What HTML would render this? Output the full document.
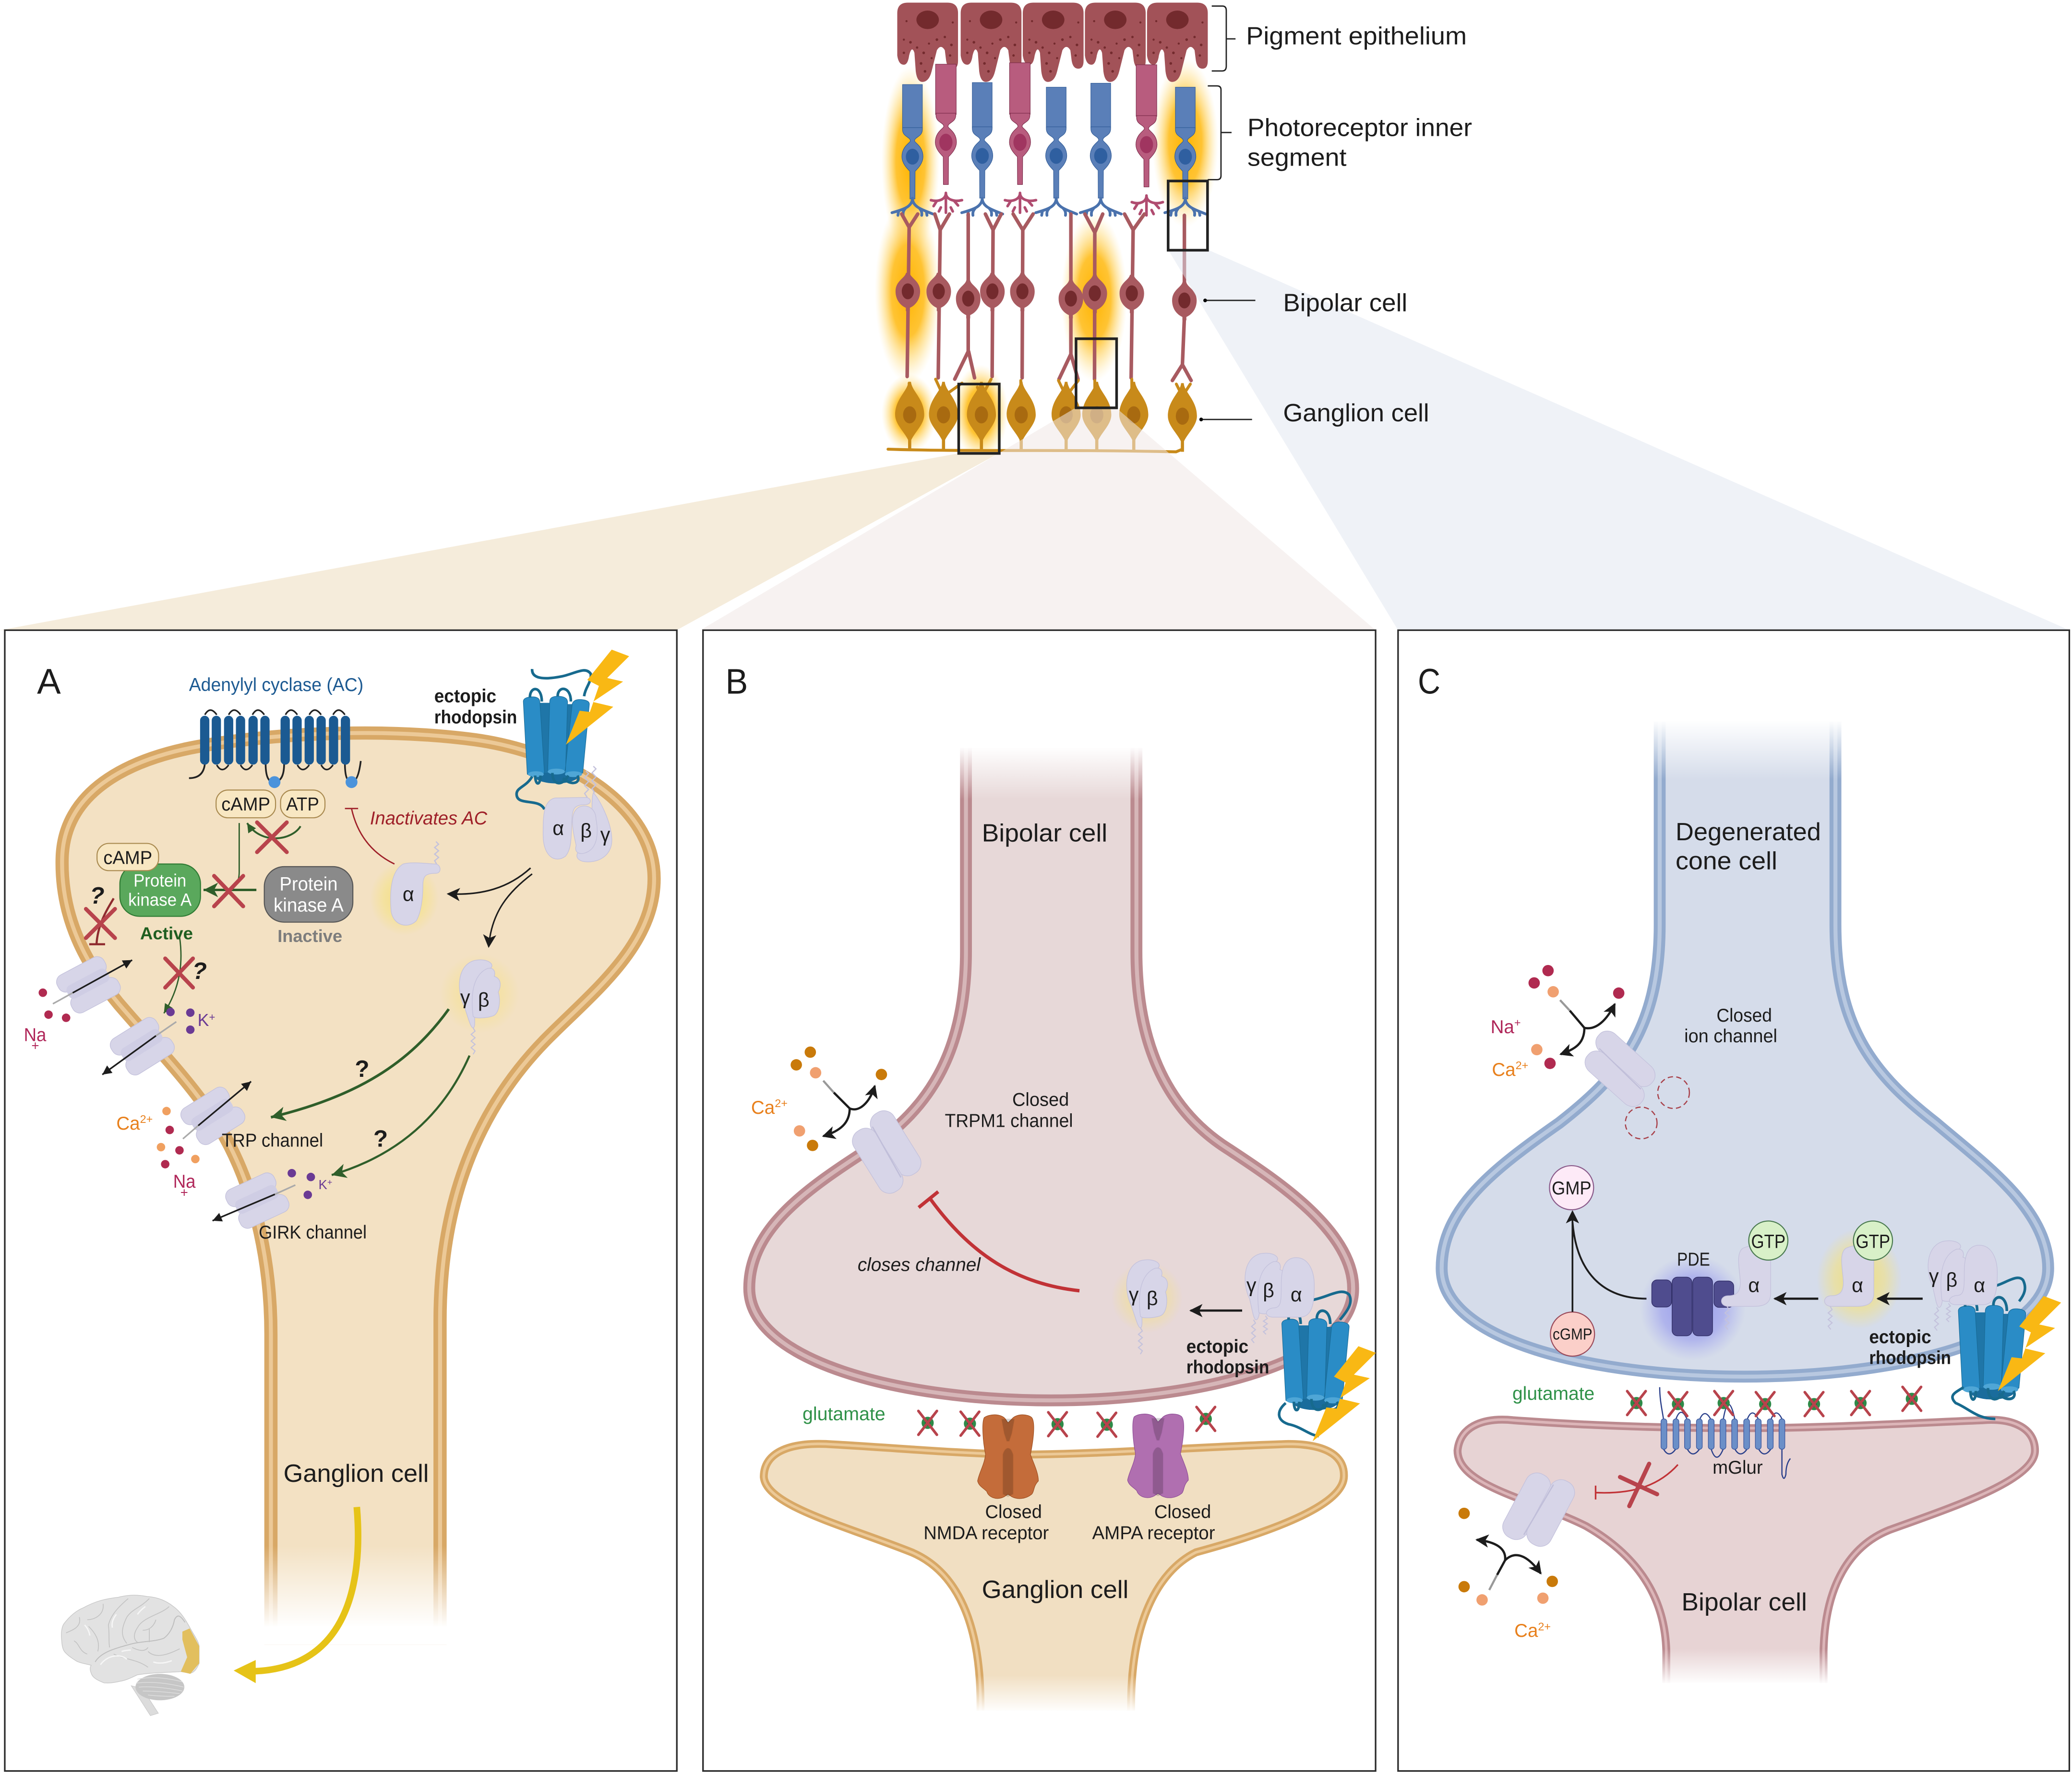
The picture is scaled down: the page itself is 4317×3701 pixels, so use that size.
<!DOCTYPE html>
<html><head><meta charset="utf-8"><style>
html,body{margin:0;padding:0;background:#fff}
svg{display:block}
text{font-family:"Liberation Sans",sans-serif;fill:#1c1c1c}
.b{fill:#5a7fb8;stroke:#2f5a96;stroke-width:.4}
.p{fill:#b85c7e;stroke:#7a2a48;stroke-width:.4}
.nb{fill:#2f5fa0;stroke:none}
.np{fill:#a03560;stroke:none}
.fb{fill:none;stroke:#4a72ad;stroke-width:2.1;stroke-linecap:round}
.fp{fill:none;stroke:#b04c70;stroke-width:2;stroke-linecap:round}
.br{fill:none;stroke:#a85a60;stroke-width:2.7;stroke-linecap:round;stroke-linejoin:round}
.go{fill:none;stroke:#c88a1a;stroke-width:2.2;stroke-linecap:round}
.lav{fill:#d7d5e8;stroke:#c4c2dc;stroke-width:.5}
.lab{font-size:14px}
.big{font-size:19px}
.ul{fill:none;stroke:#222;stroke-width:1}
.grn{fill:none;stroke:#2f5e2a}
.blk{fill:none;stroke:#1c1c1c}
.rd{fill:none;stroke:#b8434c;stroke-linecap:round}
.tail{fill:none;stroke:#176a8e;stroke-width:2}
</style></head><body>
<svg xmlns="http://www.w3.org/2000/svg" width="4317" height="3701" viewBox="0 0 1568 1344.3">
<defs>
<radialGradient id="og"><stop offset="0" stop-color="#ffb400"/><stop offset=".5" stop-color="#ffb90f" stop-opacity=".85"/><stop offset=".8" stop-color="#ffd25a" stop-opacity=".35"/><stop offset="1" stop-color="#ffe39a" stop-opacity="0"/></radialGradient>
<radialGradient id="yg"><stop offset="0" stop-color="#f5dd5c"/><stop offset=".6" stop-color="#f5e27a" stop-opacity=".7"/><stop offset="1" stop-color="#f5e27a" stop-opacity="0"/></radialGradient>
<radialGradient id="bg"><stop offset="0" stop-color="#4f4ff0"/><stop offset=".6" stop-color="#6a6af0" stop-opacity=".7"/><stop offset="1" stop-color="#8a8af5" stop-opacity="0"/></radialGradient>
<linearGradient id="fadeD" x1="0" y1="0" x2="0" y2="1"><stop offset="0" stop-color="#fff" stop-opacity="0"/><stop offset="1" stop-color="#fff"/></linearGradient>
<linearGradient id="fadeU" x1="0" y1="1" x2="0" y2="0"><stop offset="0" stop-color="#fff" stop-opacity="0"/><stop offset="1" stop-color="#fff"/></linearGradient>
<marker id="mk" markerUnits="userSpaceOnUse" markerWidth="12" markerHeight="12" refX="9" refY="5" orient="auto"><path d="M0,0 L10,5 L0,10 L2.5,5Z" fill="#1c1c1c"/></marker>
<marker id="mks" markerUnits="userSpaceOnUse" markerWidth="10" markerHeight="10" refX="7" refY="3.5" orient="auto"><path d="M0,0 L7,3.5 L0,7Z" fill="#1c1c1c"/></marker>
<marker id="mg" markerUnits="userSpaceOnUse" markerWidth="14" markerHeight="14" refX="11" refY="5.5" orient="auto"><path d="M0,0 L11,5.5 L0,11 L3,5.5Z" fill="#2f5e2a"/></marker>
<marker id="mgs" markerUnits="userSpaceOnUse" markerWidth="10" markerHeight="10" refX="7" refY="3.5" orient="auto"><path d="M0,0 L7,3.5 L0,7Z" fill="#2f5e2a"/></marker>
<path id="cellA" d="M205,1240 V1010 C205,960 195,905 170,860 C150,825 120,795 90,760 C65,730 46,695 47,650 C48,600 95,575 150,565 C220,553 300,552 360,560 C430,570 495,610 495,665 C495,715 450,750 415,785 C375,825 333,890 333,1000 V1240 Z"/>
<path id="cellB" d="M731,540 V720 C731,800 700,840 660,868 C610,900 567,930 567,975 C567,1030 680,1060 795,1060 C910,1060 1025,1030 1024,975 C1024,930 960,890 930,870 C890,845 860,800 860,720 V540Z"/>
<path id="cellBg" d="M578,1118 C578,1098 600,1092 625,1093 C680,1096 720,1100 770,1101 C830,1101 910,1095 975,1093 C1000,1093 1018,1100 1017,1118 C1016,1140 960,1160 905,1175 C875,1190 856,1230 856,1290 V1310 H742 V1290 C742,1230 725,1190 690,1175 C640,1155 580,1140 578,1118Z"/>
<path id="cellC" d="M1256,530 V700 C1256,780 1225,815 1180,850 C1130,885 1091,915 1091,960 C1091,1015 1205,1042 1320,1042 C1435,1042 1550,1015 1550,960 C1550,915 1500,880 1465,850 C1420,815 1389,780 1389,700 V530Z"/>
<path id="cellCb" d="M1103,1098 C1105,1078 1125,1073 1145,1075 C1200,1079 1260,1081 1320,1081 C1380,1081 1450,1077 1500,1075 C1525,1073 1540,1082 1540,1098 C1540,1120 1480,1140 1430,1158 C1400,1170 1381,1200 1380,1250 V1290 H1261 V1250 C1260,1205 1235,1175 1200,1155 C1160,1135 1103,1125 1103,1098Z"/>
<g id="rpe">
<path d="M8,0 H38 Q46,0 46,8 V44 Q46,50 42,50 Q38,50 37,44 L36,36 Q33,31 30,36 L26,52 Q24,60 19,60 Q15,60 14,52 L13,38 Q11,32 9,40 Q8,47 5,47 Q1,47 0,40 V8 Q0,0 8,0Z" fill="#a25258"/>
<ellipse cx="23" cy="13" rx="8.5" ry="7" fill="#732a2d"/>
<g fill="#732a2d"><circle cx="5" cy="28" r=".8"/><circle cx="10" cy="30" r="1"/><circle cx="15" cy="34" r=".9"/><circle cx="20" cy="38" r="1"/><circle cx="24" cy="31" r=".8"/><circle cx="30" cy="28" r="1"/><circle cx="36" cy="26" r=".9"/><circle cx="41" cy="32" r="1"/><circle cx="40" cy="40" r=".9"/><circle cx="18" cy="46" r="1"/><circle cx="21" cy="52" r="1"/><circle cx="5" cy="38" r=".9"/><circle cx="42" cy="15" r=".8"/><circle cx="7" cy="14" r=".8"/><circle cx="26" cy="42" r=".8"/></g>
</g>
<path id="pr" d="M-7.5,-22 V-20.5 C-7.5,-15 -1.6,-15 -1.6,-12 C-1.6,-10.5 -8,-8 -8,0 C-8,5 -4,9 -2,11 L-1.9,32 L1.9,32 L2,11 C4,9 8,5 8,0 C8,-8 1.6,-10.5 1.6,-12 C1.6,-15 7.5,-15 7.5,-20.5 V-22Z"/>
<g id="soma"><path d="M-1.4,-14 L1.4,-14 C2,-10 9.3,-8 9.3,0 C9.3,7 5,11 1.5,12.5 L1.5,15 L-1.5,15 L-1.5,12.5 C-5,11 -9.3,7 -9.3,0 C-9.3,-8 -2,-10 -1.4,-14Z" fill="#a85a60"/><ellipse cx="0" cy="0" rx="4.6" ry="6" fill="#732a2d"/></g>
<g id="gang"><path d="M-1,-24 L1,-24 C1.5,-17 11,-11 11,1 C11,8 4,14 1.2,20 L1.2,28 L-1.2,28 L-1.2,20 C-4,14 -11,8 -11,1 C-11,-11 -1.5,-17 -1,-24Z" fill="#c88a1a"/><ellipse cx="0" cy="1" rx="5" ry="6.5" fill="#a86a10"/></g>
<g id="chO"><rect x="-10" y="-13" width="20" height="26" fill="#c6c4df"/><rect x="-21" y="-16" width="40" height="14" rx="6" class="lav"/><rect x="-19" y="3" width="40" height="14" rx="6" class="lav"/><rect x="-17" y="-6" width="34" height="11" rx="4" fill="#cfcde4"/></g>
<g id="chC"><rect x="-29" y="-19" width="54" height="19.5" rx="9" class="lav"/><rect x="-25" y="-.5" width="54" height="19.5" rx="9" class="lav"/><path d="M-22,-1 L22,1" stroke="#c0bed9" stroke-width="1"/></g>
<path id="bolt" fill="#f9b814" d="M0,0 L13.2,5 L-3.4,21.5 L8.6,24.2 L-14.3,39.6 L1.2,43.3 L-34.7,72 L-24.3,46.3 L-16.5,47.2 L-9.7,27.5 L-18.5,23Z"/>
<g id="rh">
<ellipse cx="25" cy="60" rx="17" ry="6" fill="#1a6c9c"/>
<path d="M8,5 L24,5 L24,58 L10,58Z M28,6 L42,6 L42,58 L28,58Z" fill="#1f76a8"/>
<path d="M0,4 Q0,1 5.5,.5 Q12,0 12.5,4 L16,58 Q9,63 3,59Z M20,4 Q20,0 26,0 Q33,0 33.5,4 L32,56 Q25,60 18.5,56Z M37,6 Q38,2 44,2.5 Q50,3 50,6 L45,58 Q38,62 31.5,58Z" fill="#2a8cc6" stroke="#176a96" stroke-width=".4"/>
<g fill="#4fa6d6"><ellipse cx="9.5" cy="59" rx="6" ry="2.2"/><ellipse cx="25" cy="57" rx="6.5" ry="2.2"/><ellipse cx="38" cy="59" rx="6.5" ry="2.2"/></g>
<g class="tail"><path d="M5,1 C5,-8 14,-8 14,4"/><path d="M26,0 C26,-8 36,-8 36,4"/><path d="M9,60 C9,68 13,68 13,60"/><path d="M22,58 C22,68 30,68 34,60"/><path d="M41,60 C44,66 36,68 30,62"/></g>
</g>
<g id="tri">
<path class="lav" d="M12,0 C22,-2 28,3 24,6 C14,8 12,20 12,34 C12,44 11,50 9,50 C7,50 6,42 4,34 C-1,24 -2,4 12,0Z"/>
<path class="lav" d="M22,6 C27,5 28,9 27,12 C33,14 32,20 30,24 C32,30 31,42 26,44 C20,46 11,46 11,44 C10,34 8,12 22,6Z"/>
<path class="lav" d="M38,3 C48,2 53,12 53,24 C53,36 52,48 42,48 L22,48 C15,48 15,42 22,41 C28,41 28,36 28,24 C28,12 30,4 38,3Z"/>
<path d="M7,50 l1.5,2.5 l-3,2.5 l3,2.5 l-3,2.5 l3,2.5 l-3,2.5 l2,2.5 M16,47 l1.5,2 l-3,2 l3,2 l-3,2 l3,2 l-3,2 l2,2" fill="none" stroke="#c4c2dc" stroke-width=".8"/>
</g>
<g id="by">
<path class="lav" d="M12,0 C22,-2 28,3 24,6 C14,8 12,20 12,34 C12,44 13,51 11,51 C9,51 7,42 4,34 C-1,24 -2,4 12,0Z"/>
<path class="lav" d="M22,6 C27,5 28,9 27,12 C33,14 32,20 30,24 C32,30 31,40 26,42 C20,44 11,44 11,42 C10,34 8,12 22,6Z"/>
<path d="M11,51 l1.5,2.5 l-3,2.5 l3,2.5 l-3,2.5 l3,2.5 l-3,2.5 l3,2.5 l-1.5,2.5" fill="none" stroke="#c4c2dc" stroke-width=".8"/>
</g>
<g id="aC">
<path class="lav" d="M16,2 C26,-2 37,-2 37,8 L37,36 C37,44 32,46 24,46 L5,46 C-2,46 -2,38 5,38 C12,38 14,34 14,28 C14,20 10,6 16,2Z"/>
<path d="M4,46 l1.5,2.5 l-3,2.5 l3,2.5 l-3,2.5 l3,2.5 l-3,2.5 l2,2.5" fill="none" stroke="#c4c2dc" stroke-width=".8"/>
</g>
<g id="x"><path d="M-7,-9 L7,9 M7,-9 L-7,9" fill="none" stroke="#b8434c" stroke-width="2" stroke-linecap="round"/></g>
<g id="glu"><circle r="4.6" fill="#2e8a48"/><circle r="2.2" fill="#1f6e38"/><use href="#x"/></g>
<g id="iglu">
<path d="M5,2 C9,-1 18,-1 21,3 L23,6 L26,3 C29,-1 38,-1 41,2 C44,6 42,20 40,30 C43,38 46,44 46,50 C42,54 43,58 41,60 C36,64 30,64 26,62 L23,60 L20,62 C14,65 8,62 7,58 C4,55 1,54 0,50 C1,44 5,38 6,30 C4,20 3,6 5,2Z"/>
<path d="M18,3 H28 L26,14 L24,20 L22,20 L20,14Z M19,30 C20,26 22,25 23,25 C25,25 26,27 27,30 V60 L23,62 L19,60Z" fill="#000" opacity=".18"/>
</g>
</defs>

<rect width="1568" height="1344.3" fill="#fff"/>

<!-- glow -->
<ellipse cx="689" cy="122" rx="22" ry="72" fill="url(#og)"/>
<ellipse cx="897" cy="108" rx="25" ry="64" fill="url(#og)"/>
<ellipse cx="687" cy="220" rx="25" ry="70" fill="url(#og)"/>
<ellipse cx="828" cy="225" rx="25" ry="64" fill="url(#og)"/>
<ellipse cx="688" cy="313" rx="21" ry="30" fill="url(#og)"/>
<ellipse cx="742" cy="312" rx="21" ry="36" fill="url(#og)"/>

<!-- RPE -->
<use href="#rpe" transform="translate(679,2)"/><use href="#rpe" transform="translate(727,2)"/><use href="#rpe" transform="translate(774,2)"/><use href="#rpe" transform="translate(821,2)"/><use href="#rpe" transform="translate(868,2)"/>

<!-- photoreceptors -->
<g class="b"><rect x="683" y="64" width="15" height="33"/><use href="#pr" transform="translate(690.5,118.6)"/><ellipse class="nb" cx="690.5" cy="118.6" rx="5" ry="6"/></g>
<g class="b"><rect x="735.8" y="62.5" width="15" height="34"/><use href="#pr" transform="translate(743.3,118)"/><ellipse class="nb" cx="743.3" cy="118" rx="5" ry="6"/></g>
<g class="b"><rect x="791.8" y="66" width="15" height="30.5"/><use href="#pr" transform="translate(799.3,118)"/><ellipse class="nb" cx="799.3" cy="118" rx="5" ry="6"/></g>
<g class="b"><rect x="825.5" y="63" width="15" height="33.5"/><use href="#pr" transform="translate(833,118)"/><ellipse class="nb" cx="833" cy="118" rx="5" ry="6"/></g>
<g class="b"><rect x="889.5" y="66" width="15" height="31"/><use href="#pr" transform="translate(897,118.6)"/><ellipse class="nb" cx="897" cy="118.6" rx="5" ry="6"/></g>
<g class="p"><rect x="708" y="48.6" width="15.6" height="38"/><use href="#pr" transform="translate(715.8,107.7)"/><ellipse class="np" cx="715.8" cy="107.7" rx="5" ry="6.5"/></g>
<g class="p"><rect x="764" y="47.5" width="15.6" height="39"/><use href="#pr" transform="translate(771.9,107.7)"/><ellipse class="np" cx="771.9" cy="107.7" rx="5" ry="6.5"/></g>
<g class="p"><rect x="859.8" y="49" width="15.6" height="39"/><use href="#pr" transform="translate(867.6,109.5)"/><ellipse class="np" cx="867.6" cy="109.5" rx="5" ry="6.5"/></g>
<g class="fb">
<path id="fb" d="M690.5,150 C690.5,157 682,159 675,161 M690.5,150 C690.5,157 699,159 706,162 M680,160 l-.5,3 M685,158 q-2,2 -1.5,5 M696,158 q2,2 1.5,5 M701,160 l.5,3"/>
<use href="#fb" transform="translate(52.8,0)"/><use href="#fb" transform="translate(108.8,0)"/><use href="#fb" transform="translate(142.5,0)"/><use href="#fb" transform="translate(206.5,0)"/>
</g>
<g class="fp">
<path d="M715.8,146 C715.8,151 710,153 704.5,151.5 M715.8,146 C715.8,151 722,153 728,151.5 M709,152 l-2.5,4 M722,152 l3,3.5 M715.8,148 v13 M712,157 l-1.5,3 M719.5,157 l1.5,3"/>
<path d="M771.9,146 C771.9,151 766,153 760.5,151.5 M771.9,146 C771.9,151 778,153 784,151.5 M765,152 l-2.5,4 M778,152 l3,3.5 M771.9,148 v13 M768,157 l-1.5,3 M775.5,157 l1.5,3"/>
<path d="M867.6,148 C867.6,153 862,155 856.5,153 M867.6,148 C867.6,153 874,155 880,153 M861,154 l-2.5,4 M874,154 l3,3.5 M867.6,150 v13 M864,159 l-1.5,3 M871.5,159 l1.5,3"/>
</g>

<!-- bipolar processes -->
<g class="br">
<path d="M682.4,162 L688,172 L694.5,162 M688,172 L686.5,285"/>
<path d="M707.4,162 L711.5,174 L718.5,162 M711.5,174 L710,286"/>
<path d="M732.7,162 V266 L722.5,287 M733,266 L737.5,286"/>
<path d="M745.7,162 L751.5,174 L757.7,162 M751.5,174 L750.8,285"/>
<path d="M766.7,162 L774,174 L781.8,162 M774,174 L773.5,286"/>
<path d="M810.4,162 V268 L801.4,287 M810.4,268 L815.8,287"/>
<path d="M821,162 L828.5,176 L834.5,162 M828.5,176 L828.3,287"/>
<path d="M851,162 L857.5,174 L866,162 M857.5,174 L856,286"/>
<path d="M896.3,163 V240 L894.8,276 L887.2,288 M894.8,276 L901.4,288"/>
</g>
<use href="#soma" transform="translate(687,220.5)"/><use href="#soma" transform="translate(710.4,220.5)"/><use href="#soma" transform="translate(732.7,226)"/><use href="#soma" transform="translate(751,220.5)"/><use href="#soma" transform="translate(773.7,220.5)"/><use href="#soma" transform="translate(810.4,226)"/><use href="#soma" transform="translate(828.5,222)"/><use href="#soma" transform="translate(856.5,222)"/><use href="#soma" transform="translate(896.3,227.4)"/>

<!-- ganglion -->
<g class="go">
<path d="M672,340 C730,342 800,340 890,342 L894.8,340 V320"/>
<path d="M688,290 V300 M708,287 L714,300 L728,290 M739.6,293 L743,300 L750,287 M772.5,288 V300 M801,288 L806.8,300 L816,288 M828.5,288 V300 M856.5,287 V300 M890.2,290.7 L894.8,300 L900.8,290.7"/>
</g>
<use href="#gang" transform="translate(688.4,313)"/><use href="#gang" transform="translate(714,313)"/><use href="#gang" transform="translate(742.7,313)"/><use href="#gang" transform="translate(772.8,313)"/><use href="#gang" transform="translate(806.8,313)"/><use href="#gang" transform="translate(830,313)"/><use href="#gang" transform="translate(858,313)"/><use href="#gang" transform="translate(894.8,314)"/>

<!-- wedges -->
<polygon points="726,343 756,343 512,477 0,477" fill="#f5ecdb"/>
<polygon points="813.4,309 845,309 1041,477 530,477" fill="#f1e8e6" opacity=".55"/>
<polygon points="884,189 914,189 1566,477 1058,477" fill="#dfe5ef" opacity=".5"/>
<rect x="884" y="137" width="29.8" height="52.4" fill="none" stroke="#222" stroke-width="2"/>
<rect x="814.3" y="256.4" width="30.7" height="52.3" fill="none" stroke="#222" stroke-width="2"/>
<rect x="725.5" y="290.7" width="30.7" height="52.5" fill="none" stroke="#222" stroke-width="2"/>

<!-- top labels -->
<path class="ul" d="M917,4.6 H925 Q928,4.6 928,8 V50 Q928,53.7 925,53.7 H917 M928,29.4 H935"/>
<path class="ul" d="M914,65 H921 Q924,65 924,68 V133 Q924,136 921,136 H914 M924,100.3 H932"/>
<path class="ul" d="M912,227.4 H950 M909,317.5 H947.5"/><circle cx="912" cy="227.4" r="1.4"/><circle cx="909" cy="317.5" r="1.4"/>
<text class="big" x="943" y="33.6" textLength="167" lengthAdjust="spacingAndGlyphs">Pigment epithelium</text>
<text class="big" x="944" y="103" textLength="170" lengthAdjust="spacingAndGlyphs">Photoreceptor inner</text>
<text class="big" x="944" y="125.5" textLength="75" lengthAdjust="spacingAndGlyphs">segment</text>
<text class="big" x="971" y="235.5" textLength="94" lengthAdjust="spacingAndGlyphs">Bipolar cell</text>
<text class="big" x="971" y="319" textLength="110.5" lengthAdjust="spacingAndGlyphs">Ganglion cell</text>

<!-- panels -->
<rect x="3.6" y="477" width="508.6" height="863.5" fill="#fff" stroke="#2a2a2a" stroke-width="1.2"/>
<rect x="532" y="477" width="509" height="863.5" fill="#fff" stroke="#2a2a2a" stroke-width="1.2"/>
<rect x="1058" y="477" width="508" height="863.5" fill="#fff" stroke="#2a2a2a" stroke-width="1.2"/>

<!-- ================= Panel A ================= -->
<use href="#cellA" fill="#f3e1c3" stroke="#d8a866" stroke-width="10"/>
<use href="#cellA" fill="none" stroke="#ecc997" stroke-width="3"/>
<rect x="190" y="1170" width="160" height="62" fill="url(#fadeD)"/><rect x="190" y="1231" width="160" height="14" fill="#fff"/>
<text x="28" y="525" font-size="27" textLength="18" lengthAdjust="spacingAndGlyphs">A</text>
<text x="143" y="523" font-size="14" style="fill:#1d5a92" textLength="132" lengthAdjust="spacingAndGlyphs">Adenylyl cyclase (AC)</text>
<!-- AC -->
<g fill="none" stroke="#222" stroke-width="1.2">
<path d="M155,541 q4,-7 9,0 M173,541 q4,-7 9,0 M191,541 q4,-7 9,0 M216,541 q4,-7 9,0 M234,541 q4,-7 9,0 M252,541 q4,-7 9,0"/>
<path d="M164,579 q4,7 9,0 M182,579 q4,7 9,0 M225,579 q4,7 9,0 M243,579 q4,7 9,0"/>
<path d="M155,578 q-1,11 -12,11 M201,578 q0,14 6,14 q8,0 8,-14 M261,578 q0,14 5,14 q5,0 7,-16" stroke-width="1.3"/>
</g>
<g fill="#1b5a92"><rect x="151.4" y="541.8" width="7" height="37" rx="3.5"/><rect x="160.2" y="541.8" width="7" height="37" rx="3.5"/><rect x="169.5" y="541.8" width="7" height="37" rx="3.5"/><rect x="178.5" y="541.8" width="7" height="37" rx="3.5"/><rect x="188" y="541.8" width="7" height="37" rx="3.5"/><rect x="197" y="541.8" width="7" height="37" rx="3.5"/><rect x="212.3" y="541.8" width="7" height="37" rx="3.5"/><rect x="221.3" y="541.8" width="7" height="37" rx="3.5"/><rect x="230.5" y="541.8" width="7" height="37" rx="3.5"/><rect x="239.5" y="541.8" width="7" height="37" rx="3.5"/><rect x="248.9" y="541.8" width="7" height="37" rx="3.5"/><rect x="257.9" y="541.8" width="7" height="37" rx="3.5"/></g>
<circle cx="207.7" cy="592" r="4.5" fill="#4b93db"/><circle cx="266" cy="592" r="4.5" fill="#4b93db"/>
<!-- pills -->
<rect x="163.5" y="598" width="45" height="21" rx="9" fill="#f8e7c2" stroke="#a98a50" stroke-width=".8"/>
<rect x="212.3" y="598" width="33.6" height="21" rx="9" fill="#f8e7c2" stroke="#a98a50" stroke-width=".8"/>
<text x="186" y="613.5" font-size="14" text-anchor="middle" textLength="37" lengthAdjust="spacingAndGlyphs">cAMP</text>
<text x="229" y="613.5" font-size="14" text-anchor="middle" textLength="25" lengthAdjust="spacingAndGlyphs">ATP</text>
<path class="grn" stroke-width="1.4" d="M227.4,625.4 C221,636 198,640 187,623" marker-end="url(#mgs)"/>
<path class="grn" stroke-width="1" d="M181,623 V660 C181,668 178,672 173,675"/>
<path class="grn" stroke-width="1.8" d="M194,673.6 H154" marker-end="url(#mg)"/>
<path class="rd" stroke-width="3" d="M194.5,622.5 L217,645 M217,622.5 L194.5,645"/>
<path class="rd" stroke-width="3" d="M162,663 L184,686 M184,663 L162,686"/>
<!-- PKA -->
<rect x="200" y="656" width="67" height="42" rx="15" fill="#8a8a8a" stroke="#555" stroke-width=".8"/>
<text x="233.5" y="674" font-size="14.5" text-anchor="middle" style="fill:#fff" textLength="44" lengthAdjust="spacingAndGlyphs">Protein</text>
<text x="233.5" y="690" font-size="14.5" text-anchor="middle" style="fill:#fff" textLength="53" lengthAdjust="spacingAndGlyphs">kinase A</text>
<text x="234.5" y="713" font-size="13" font-weight="700" text-anchor="middle" style="fill:#7d7d7d" textLength="49" lengthAdjust="spacingAndGlyphs">Inactive</text>
<rect x="90.7" y="654" width="61" height="39.6" rx="15" fill="#5aa85c" stroke="#2f7a33" stroke-width=".8"/>
<rect x="73.4" y="638.4" width="46.6" height="20.6" rx="9" fill="#f8e7c2" stroke="#a98a50" stroke-width=".8"/>
<text x="96.7" y="654" font-size="14" text-anchor="middle" textLength="37" lengthAdjust="spacingAndGlyphs">cAMP</text>
<text x="121" y="671" font-size="13.5" text-anchor="middle" style="fill:#fff" textLength="40" lengthAdjust="spacingAndGlyphs">Protein</text>
<text x="121" y="685.5" font-size="13.5" text-anchor="middle" style="fill:#fff" textLength="48" lengthAdjust="spacingAndGlyphs">kinase A</text>
<text x="126" y="711" font-size="13" font-weight="700" text-anchor="middle" style="fill:#1f5e20" textLength="40" lengthAdjust="spacingAndGlyphs">Active</text>
<!-- inhibit / ? -->
<path d="M86,680 C80,690 74,700 73,714.7 M67.5,714.7 H79.5" fill="none" stroke="#8e2a2e" stroke-width="1.6"/>
<path class="rd" stroke-width="3" d="M65,688 L87,710 M87,688 L65,710"/>
<text x="73.5" y="684" font-size="18" font-weight="700" font-style="italic" text-anchor="middle">?</text>
<path class="grn" stroke-width="1" d="M136,710 C138,725 138,745 124,767" marker-end="url(#mgs)"/>
<path class="rd" stroke-width="3" d="M125,725.5 L146,747.5 M146,725.5 L125,747.5"/>
<text x="151" y="741" font-size="18" font-weight="700" font-style="italic" text-anchor="middle">?</text>
<!-- channels -->
<use href="#chO" transform="translate(66.7,745) rotate(-28)"/>
<use href="#chO" transform="translate(107.4,791.5) rotate(-32)"/>
<use href="#chO" transform="translate(160.8,844.2) rotate(-32)"/>
<use href="#chO" transform="translate(194.5,908.3) rotate(-25)"/>
<path d="M40,759.8 L55,751.5" stroke="#aaa" stroke-width="1.2"/><path class="blk" stroke-width="1.2" d="M55,751.5 L100,726.7" marker-end="url(#mks)"/>
<path d="M133.4,773.4 L118,784" stroke="#aaa" stroke-width="1.2"/><path class="blk" stroke-width="1.2" d="M118,784 L77.4,813.4" marker-end="url(#mks)"/>
<path d="M138.4,862 L150,852" stroke="#aaa" stroke-width="1.2"/><path class="blk" stroke-width="1.2" d="M150,852 L190,818.6" marker-end="url(#mks)"/>
<path d="M223.5,897 L208,904" stroke="#aaa" stroke-width="1.2"/><path class="blk" stroke-width="1.2" d="M208,904 L160.8,924" marker-end="url(#mks)"/>
<!-- ions A -->
<g fill="#b02a50"><circle cx="32.4" cy="751.4" r="3.2"/><circle cx="36.7" cy="768" r="3.2"/><circle cx="50" cy="770.4" r="3.2"/><circle cx="128.4" cy="855.3" r="3.2"/><circle cx="135.8" cy="870.7" r="3.2"/><circle cx="125" cy="881.2" r="3.2"/></g>
<g fill="#6a3a94"><circle cx="129" cy="766" r="3.2"/><circle cx="144" cy="766.5" r="3.2"/><circle cx="144" cy="779.4" r="3.2"/><circle cx="220.8" cy="888" r="3.2"/><circle cx="235.2" cy="890.9" r="3.2"/><circle cx="232.9" cy="904.4" r="3.2"/></g>
<g fill="#f0a060"><circle cx="126" cy="841" r="3.2"/><circle cx="121.8" cy="868.3" r="3.2"/><circle cx="147.8" cy="877.3" r="3.2"/></g>
<text x="18" y="788" font-size="14" style="fill:#b0275a" textLength="17" lengthAdjust="spacingAndGlyphs">Na</text><text x="26.7" y="795" font-size="10" text-anchor="middle" style="fill:#b0275a">+</text>
<text x="149.5" y="776.5" font-size="13" style="fill:#6a3a94">K<tspan font-size="8" dy="-4">+</tspan></text>
<text x="88" y="855" font-size="14" style="fill:#e8801c">Ca<tspan font-size="8.5" dy="-5">2+</tspan></text>
<text x="131" y="899" font-size="14" style="fill:#b0275a" textLength="17" lengthAdjust="spacingAndGlyphs">Na</text><text x="139.4" y="906" font-size="10" text-anchor="middle" style="fill:#b0275a">+</text>
<text x="241" y="900" font-size="10" style="fill:#6a3a94">K<tspan font-size="6.5" dy="-3">+</tspan></text>
<text class="lab" x="167.8" y="868" textLength="76.7" lengthAdjust="spacingAndGlyphs">TRP channel</text>
<text class="lab" x="195.8" y="937.5" textLength="81.7" lengthAdjust="spacingAndGlyphs">GIRK channel</text>
<!-- rhodopsin A -->
<path class="tail" d="M402.7,506.4 C402,515 415,514 425,512 C435,510 443,504 447,510 C448,516 443,520 442,527"/>
<use href="#rh" transform="translate(396,527)"/>
<path class="tail" d="M402.7,587.8 C398,596 390,596 391,602 C392,610 408,604 412,612.6"/>
<use href="#bolt" transform="translate(462.9,491.7)"/>
<text x="328.6" y="531.5" font-size="14" font-weight="700" textLength="47" lengthAdjust="spacingAndGlyphs">ectopic</text>
<text x="328.6" y="547.5" font-size="14" font-weight="700" textLength="62.7" lengthAdjust="spacingAndGlyphs">rhodopsin</text>
<!-- trimer A -->
<path d="M444.4,603.6 l-2,-3 l3,-3 l-3,-3 l3,-3 l-3,-3 l3,-3 l-2,-2 M450,600 l-2,-3 l3,-3 l-3,-3 l3,-3 l-3,-3 l3,-3 l-2,-2" fill="none" stroke="#c4c2dc" stroke-width=".9"/>
<path class="lav" d="M449,600 C453,604 463,622 463,636 C463,648 452,654 441,652 C434,650 436,644 442,642 L447,630 C449,618 447,606 449,600Z"/>
<path class="lav" d="M438,611 C444,608 451,612 451,620 C453,630 452,640 446,644 C440,648 434,646 436,640 C434,630 430,616 438,611Z"/>
<path class="lav" d="M420,604 L443,603.6 C448,603.6 448,609 443,609 C435,609 433,612 432.8,620 C432,632 433,642 428,648 C420,654 411,648 411,632 C411,618 411,606 420,604Z"/>
<text x="422.5" y="632" font-size="15" text-anchor="middle">α</text>
<text x="443.5" y="634" font-size="15" text-anchor="middle">β</text>
<text x="458" y="637" font-size="15" text-anchor="middle">γ</text>
<!-- alpha free -->
<ellipse cx="306" cy="680" rx="26" ry="28" fill="url(#yg)" opacity=".7"/>
<path d="M330.4,654 l-1.5,-2.5 l3,-2.5 l-3,-2.5 l3,-2.5 l-3,-2.5 l3,-2.5 l-2,-2" fill="none" stroke="#c4c2dc" stroke-width=".9"/>
<path class="lav" d="M305,654 C312,652 325,654 330,654 C334,655 334,661 330,661 C322,661 320,663 320,670 C320,678 319,690 315,697 C309,703 298,701 296,690 C295,678 295,660 305,654Z"/>
<text x="309" y="682" font-size="15" text-anchor="middle">α</text>
<path class="blk" stroke-width="1.2" d="M401.5,657 C385,672 365,678 339,676.6" marker-end="url(#mk)"/>
<path class="blk" stroke-width="1.1" d="M402.7,661.5 C385,675 372,690 369.8,716.5" marker-end="url(#mk)"/>
<path d="M298.5,654 C280,645 270,630 266,612" fill="none" stroke="#9e1f28" stroke-width="1"/><path d="M261,612 H271" stroke="#9e1f28" stroke-width="1"/>
<text x="280" y="624" font-size="14" font-style="italic" style="fill:#9e1f28" textLength="88.7" lengthAdjust="spacingAndGlyphs">Inactivates AC</text>
<!-- by free A -->
<circle cx="363" cy="752" r="30" fill="url(#yg)" opacity=".45"/>
<use href="#by" transform="translate(347,727)"/>
<text x="352" y="760" font-size="15" text-anchor="middle">γ</text>
<text x="366" y="762" font-size="15" text-anchor="middle">β</text>
<path class="grn" stroke-width="2" d="M339.6,763.8 C310,805 270,830 205,845.7" marker-end="url(#mg)"/>
<path class="grn" stroke-width="1.6" d="M355.3,799 C335,845 300,875 251,889.4" marker-end="url(#mg)"/>
<text x="274" y="815" font-size="18" font-weight="700" text-anchor="middle">?</text>
<text x="288" y="868" font-size="18" font-weight="700" text-anchor="middle">?</text>
<text class="big" x="214.5" y="1121.7" textLength="110" lengthAdjust="spacingAndGlyphs">Ganglion cell</text>
<!-- yellow arrow -->
<path d="M270,1140.7 C275,1200 262,1262 193,1265" fill="none" stroke="#e6c317" stroke-width="5"/>
<path d="M176.8,1264.5 L193.5,1256.5 V1274Z" fill="#e6c317"/>
<!-- brain -->
<path d="M99.3,1276 L113.8,1298.6 L119.8,1296.8 L107.7,1278Z" fill="#dcdcdc" stroke="#c8c8c8" stroke-width=".4"/>
<ellipse cx="121" cy="1277" rx="18.5" ry="10" fill="#c6c6c6"/>
<path d="M104,1271 q14,-3 34,2 M103,1274 q16,-2 36,3 M105,1277 q14,-1 33,3 M108,1280 q12,0 28,2 M112,1283 q8,1 20,1" stroke="#e0e0e0" stroke-width=".5" fill="none"/>
<path d="M46.6,1241 C46,1235 47,1231 48.4,1229 C53,1223 58,1219 63,1217 C72,1212 80,1210 89.6,1209 C97,1207 104,1207 111,1208.4 C120,1209 126,1212 130.8,1215.7 C137,1220 141,1227 144,1232.6 C147,1238 150,1242 150.7,1246 V1259 C149,1263 147,1266 144,1266.5 L136.8,1265.3 C125,1266 115,1266 104,1267.7 C99,1270 95,1272 90.8,1272.6 C85,1274 82,1274 78.7,1273.8 C74,1272 70,1270 69,1266.5 C68,1264 68,1262 69,1260.5 C66,1259.5 61,1259 58,1257.4 C54,1255 50,1252 48.4,1249.6 C47,1247 46.8,1244 46.6,1241Z" fill="#e2e2e2" stroke="#c8c8c8" stroke-width=".5"/>
<path d="M72,1258 C76,1251 86,1248 97,1245 C107,1242 116,1243 124,1240 C128,1237 131,1232 132,1226 C134,1222 136,1222 140,1228" fill="none" stroke="#bdbdbd" stroke-width=".7"/>
<path d="M78,1214 C79,1222 72,1226 66,1226 M97,1210 C90,1216 84,1222 82,1230 C83,1238 82,1244 83,1247 M113,1210 C106,1217 100,1218 96,1224 C92,1232 91,1238 96,1244 M128,1216 C122,1222 108,1224 104,1232 C100,1238 102,1242 104,1243 M118,1226 C116,1232 112,1234 108,1234 M113,1233 L113,1243 M60,1224 C62,1232 54,1234 50,1236 M67,1231 C72,1236 76,1242 74,1250 M56,1242 C60,1244 60,1250 66,1252 M86,1252 C94,1256 104,1256 112,1262 M100,1247 C106,1250 110,1250 112,1247 M112,1250 C118,1256 128,1252 136,1248" fill="none" stroke="#c2c2c2" stroke-width=".6"/>
<path d="M76,1260 C82,1252 92,1252 96,1256 M92,1250 q4,-1 7,-1 M116,1258 q6,2 14,-1 M88,1222 q-4,5 -3,10 M110,1216 q-4,3 -6,6 M64,1230 q3,3 4,8" fill="none" stroke="#f6f6f6" stroke-width="1"/>
<path d="M138,1235 L143.5,1232.6 L150.7,1246 V1259 L144,1267 L136.8,1265.3 L141.6,1254.4 L138,1241Z" fill="#e2bf5e"/>

<!-- ================= Panel B ================= -->
<use href="#cellB" fill="#e7d8d8" stroke="#bb8a8f" stroke-width="9"/>
<use href="#cellB" fill="none" stroke="#d6b6b8" stroke-width="3"/>
<rect x="715" y="565" width="160" height="40" fill="url(#fadeU)"/><rect x="715" y="530" width="160" height="36" fill="#fff"/>
<use href="#cellBg" fill="#f1dfc2" stroke="#d8a866" stroke-width="6"/>
<use href="#cellBg" fill="none" stroke="#ecc997" stroke-width="2"/>
<rect x="730" y="1268" width="135" height="28" fill="url(#fadeD)"/><rect x="730" y="1295" width="135" height="20" fill="#fff"/>
<text x="549" y="525" font-size="27" textLength="17" lengthAdjust="spacingAndGlyphs">B</text>
<text class="big" x="743" y="637" textLength="95" lengthAdjust="spacingAndGlyphs">Bipolar cell</text>
<text class="lab" x="787.5" y="837" text-anchor="middle" textLength="43" lengthAdjust="spacingAndGlyphs">Closed</text>
<text class="lab" x="763.5" y="853" text-anchor="middle" textLength="97" lengthAdjust="spacingAndGlyphs">TRPM1 channel</text>
<text class="lab" x="649" y="962" font-style="italic" textLength="93" lengthAdjust="spacingAndGlyphs">closes channel</text>
<use href="#chC" transform="translate(671,872) rotate(58)"/>
<g fill="#c97a0a"><circle cx="613.2" cy="796.4" r="4.3"/><circle cx="602.6" cy="806" r="4.3"/><circle cx="667" cy="813.3" r="4.3"/><circle cx="614.9" cy="867" r="4.3"/></g>
<g fill="#f0a070"><circle cx="617.2" cy="812" r="4.3"/><circle cx="605" cy="856" r="4.3"/></g>
<path d="M623,818 L631,827" stroke="#999" stroke-width="1.6"/>
<path class="blk" stroke-width="1.7" d="M631,827 L643,839 C650,842 658,835 662,822" marker-end="url(#mk)"/>
<path class="blk" stroke-width="1.7" d="M643,839 C643,850 636,856 623,860" marker-end="url(#mk)"/>
<text x="568.4" y="843" font-size="14" style="fill:#e8801c">Ca<tspan font-size="8.5" dy="-5">2+</tspan></text>
<path d="M816.9,977 C770,972 735,950 704.4,908" fill="none" stroke="#c13236" stroke-width="2.6"/>
<path d="M695.2,914 L710,902" stroke="#c13236" stroke-width="2.6"/>
<circle cx="868" cy="982" r="27" fill="url(#yg)" opacity=".5"/>
<use href="#by" transform="translate(852,954)"/>
<text x="858" y="985" font-size="15" text-anchor="middle">γ</text>
<text x="872" y="988" font-size="15" text-anchor="middle">β</text>
<path class="blk" stroke-width="1.7" d="M940,992 H901" marker-end="url(#mk)"/>
<path class="tail" d="M993,984 C1005,982 1015,974 1021,980 C1024,986 1020,992 1014,999"/>
<use href="#rh" transform="translate(970,998) scale(1.02,1.05)"/>
<use href="#tri" transform="translate(941.6,949)"/>
<text x="947" y="978" font-size="15" text-anchor="middle">γ</text>
<text x="960" y="982" font-size="15" text-anchor="middle">β</text>
<text x="981" y="985" font-size="15" text-anchor="middle">α</text>
<path class="tail" d="M973,1062 C966,1068 966,1075 975,1078 C985,1080 990,1086 998,1087"/>
<use href="#bolt" transform="translate(1028,1019)"/>
<text x="897.8" y="1024" font-size="14" font-weight="700" textLength="47" lengthAdjust="spacingAndGlyphs">ectopic</text>
<text x="897.8" y="1039.6" font-size="14" font-weight="700" textLength="62.7" lengthAdjust="spacingAndGlyphs">rhodopsin</text>
<text class="lab" x="607.3" y="1075" style="fill:#2f9148" textLength="62.7" lengthAdjust="spacingAndGlyphs">glutamate</text>
<use href="#glu" transform="translate(702,1077)"/><use href="#glu" transform="translate(734,1077.6)"/><use href="#glu" transform="translate(800.3,1078)"/><use href="#glu" transform="translate(837.6,1078.4)"/><use href="#glu" transform="translate(912.5,1074)"/>
<use href="#iglu" fill="#c46c3a" stroke="#9a4c1e" stroke-width=".4" transform="translate(739.8,1071)"/>
<use href="#iglu" fill="#b06fb0" stroke="#8a4a94" stroke-width=".4" transform="translate(853.3,1070.4)"/>
<text class="lab" x="767" y="1149" text-anchor="middle" textLength="43" lengthAdjust="spacingAndGlyphs">Closed</text>
<text class="lab" x="698.9" y="1165" textLength="94.8" lengthAdjust="spacingAndGlyphs">NMDA receptor</text>
<text class="lab" x="895" y="1149" text-anchor="middle" textLength="43" lengthAdjust="spacingAndGlyphs">Closed</text>
<text class="lab" x="826.5" y="1165" textLength="93" lengthAdjust="spacingAndGlyphs">AMPA receptor</text>
<text class="big" x="743" y="1209.5" textLength="111" lengthAdjust="spacingAndGlyphs">Ganglion cell</text>

<!-- ================= Panel C ================= -->
<use href="#cellC" fill="#d5dcea" stroke="#93abce" stroke-width="9"/>
<use href="#cellC" fill="none" stroke="#b8c8e0" stroke-width="3"/>
<rect x="1240" y="545" width="165" height="45" fill="url(#fadeU)"/><rect x="1240" y="525" width="165" height="21" fill="#fff"/>
<use href="#cellCb" fill="#e7d3d4" stroke="#bb8a8f" stroke-width="6"/>
<use href="#cellCb" fill="none" stroke="#dcb5b8" stroke-width="2"/>
<rect x="1250" y="1248" width="140" height="27" fill="url(#fadeD)"/><rect x="1250" y="1274" width="140" height="20" fill="#fff"/>
<text x="1073" y="525" font-size="27" textLength="17" lengthAdjust="spacingAndGlyphs">C</text>
<text class="big" x="1268" y="636" textLength="110" lengthAdjust="spacingAndGlyphs">Degenerated</text>
<text class="big" x="1268" y="658" textLength="77" lengthAdjust="spacingAndGlyphs">cone cell</text>
<text class="lab" x="1320" y="773.3" text-anchor="middle" textLength="42" lengthAdjust="spacingAndGlyphs">Closed</text>
<text class="lab" x="1309.8" y="789" text-anchor="middle" textLength="70.4" lengthAdjust="spacingAndGlyphs">ion channel</text>
<use href="#chC" transform="translate(1226,809) rotate(42) scale(1,.9)"/>
<circle cx="1266.5" cy="827" r="12" fill="none" stroke="#a8414a" stroke-width=".9" stroke-dasharray="4 2.5"/>
<circle cx="1242" cy="850" r="12" fill="none" stroke="#a8414a" stroke-width=".9" stroke-dasharray="4 2.5"/>
<g fill="#b02a50"><circle cx="1171.5" cy="734.7" r="4.3"/><circle cx="1161" cy="744" r="4.3"/><circle cx="1225" cy="751.7" r="4.3"/><circle cx="1173" cy="804.9" r="4.3"/></g>
<g fill="#f0a070"><circle cx="1175.4" cy="750.7" r="4.3"/><circle cx="1163" cy="794.5" r="4.3"/></g>
<path d="M1180.6,757 L1188,765" stroke="#999" stroke-width="1.6"/>
<path class="blk" stroke-width="1.7" d="M1188,765 L1199,778 C1208,780 1216,772 1222,760" marker-end="url(#mk)"/>
<path class="blk" stroke-width="1.7" d="M1199,778 C1199,790 1192,794 1181,798" marker-end="url(#mk)"/>
<text x="1128" y="782" font-size="14" style="fill:#b0275a">Na<tspan font-size="8.5" dy="-5">+</tspan></text>
<text x="1129" y="814.3" font-size="14" style="fill:#e8801c">Ca<tspan font-size="8.5" dy="-5">2+</tspan></text>
<!-- GMP -->
<circle cx="1189.3" cy="899" r="16.7" fill="#fdeaf7" stroke="#8a5a8a" stroke-width=".8"/>
<text x="1189.3" y="904" font-size="14" text-anchor="middle" textLength="30" lengthAdjust="spacingAndGlyphs">GMP</text>
<circle cx="1190" cy="1009.8" r="16.7" fill="#fbcfc9" stroke="#9a4a5a" stroke-width=".8"/>
<text x="1190" y="1014" font-size="12" text-anchor="middle" textLength="30" lengthAdjust="spacingAndGlyphs">cGMP</text>
<path class="blk" stroke-width="1.3" d="M1190,993 V917" marker-end="url(#mk)"/>
<path class="blk" stroke-width="1.4" d="M1246,983 C1212,983 1193,962 1190,925"/>
<circle cx="1281" cy="990" r="40" fill="url(#bg)" opacity=".5"/>
<g fill="#4f4c8e" stroke="#302e66" stroke-width=".5"><rect x="1250" y="968.8" width="15" height="20.5" rx="4"/><rect x="1265.4" y="966.7" width="15" height="44.4" rx="4"/><rect x="1281" y="966.7" width="15" height="44.4" rx="4"/><rect x="1297" y="969.6" width="15" height="20" rx="4"/></g>
<text class="lab" x="1281.6" y="958" text-anchor="middle" textLength="25" lengthAdjust="spacingAndGlyphs">PDE</text>
<use href="#aC" transform="translate(1303,942.8)"/>
<circle cx="1338.2" cy="939" r="14.8" fill="#d8f0c8" stroke="#4a7a50" stroke-width=".8"/>
<text x="1338.2" y="944.5" font-size="14.5" text-anchor="middle" textLength="26" lengthAdjust="spacingAndGlyphs">GTP</text>
<text x="1327.3" y="978" font-size="15" text-anchor="middle">α</text>
<ellipse cx="1407" cy="968" rx="32" ry="38" fill="url(#yg)" opacity=".8"/>
<use href="#aC" transform="translate(1381,942.8)"/>
<circle cx="1417.4" cy="939" r="14.8" fill="#d8f0c8" stroke="#4a7a50" stroke-width=".8"/>
<text x="1417.4" y="944.5" font-size="14.5" text-anchor="middle" textLength="26" lengthAdjust="spacingAndGlyphs">GTP</text>
<text x="1405.7" y="978" font-size="15" text-anchor="middle">α</text>
<path class="blk" stroke-width="1.7" d="M1376,983 H1343" marker-end="url(#mk)"/>
<path class="blk" stroke-width="1.7" d="M1455,983 H1421" marker-end="url(#mk)"/>
<path class="tail" d="M1511,973 C1518,971 1527,964 1531,969 C1534,975 1532,980 1528,985"/>
<use href="#rh" transform="translate(1482,988) scale(1.02,1.08)"/>
<use href="#tri" transform="translate(1458.5,939.6)"/>
<text x="1463.5" y="971" font-size="15" text-anchor="middle">γ</text>
<text x="1477" y="974" font-size="15" text-anchor="middle">β</text>
<text x="1498" y="978" font-size="15" text-anchor="middle">α</text>
<path class="tail" d="M1486,1050 C1480,1054 1474,1056 1480,1062 C1490,1066 1496,1074 1510,1074"/>
<use href="#bolt" transform="translate(1546.6,981)"/>
<text x="1414.5" y="1016.6" font-size="14" font-weight="700" textLength="47" lengthAdjust="spacingAndGlyphs">ectopic</text>
<text x="1414.5" y="1032.5" font-size="14" font-weight="700" textLength="62" lengthAdjust="spacingAndGlyphs">rhodopsin</text>
<text class="lab" x="1144.5" y="1059.6" style="fill:#2f9148" textLength="62.2" lengthAdjust="spacingAndGlyphs">glutamate</text>
<!-- mGlur -->
<g fill="none" stroke="#2a3f8a" stroke-width=".9">
<path d="M1256,1050 C1256,1060 1258,1068 1259,1075"/>
<path d="M1268,1075 q4,-12 9,0 M1286,1075 q4,-10 9,0 M1304,1075 q4,-24 9,0 M1322,1075 q4,-11 9,0 M1340,1075 q4,-11 9,0"/>
<path d="M1259,1097 q4,7 9,0 M1277,1097 q4,7 9,0 M1295,1097 q4,12 9,0 M1313,1097 q4,7 9,0 M1331,1097 q4,7 9,0"/>
<path d="M1348.5,1097 V1116 Q1350,1122 1351.5,1116 Q1351.5,1108 1354.9,1104"/>
</g>
<g fill="#6b8fc8" stroke="#3f5aa0" stroke-width=".5"><rect x="1257" y="1074" width="4.4" height="23" rx="2"/><rect x="1266.1" y="1074" width="4.4" height="23" rx="2"/><rect x="1274.8" y="1074" width="4.4" height="23" rx="2"/><rect x="1283.8" y="1074" width="4.4" height="23" rx="2"/><rect x="1292.8" y="1074" width="4.4" height="23" rx="2"/><rect x="1301.7" y="1074" width="4.4" height="23" rx="2"/><rect x="1310.5" y="1074" width="4.4" height="23" rx="2"/><rect x="1319.6" y="1074" width="4.4" height="23" rx="2"/><rect x="1328.4" y="1074" width="4.4" height="23" rx="2"/><rect x="1337.5" y="1074" width="4.4" height="23" rx="2"/><rect x="1346.3" y="1074" width="4.4" height="23" rx="2"/></g>
<use href="#glu" transform="translate(1238.4,1062)"/><use href="#glu" transform="translate(1269.8,1062.8)"/><use href="#glu" transform="translate(1304.4,1062)"/><use href="#glu" transform="translate(1335.8,1062.8)"/><use href="#glu" transform="translate(1372.8,1062.8)"/><use href="#glu" transform="translate(1408,1062)"/><use href="#glu" transform="translate(1446.8,1058.8)"/>
<text class="lab" x="1296" y="1115.5" textLength="38" lengthAdjust="spacingAndGlyphs">mGlur</text>
<path d="M1269.8,1108.6 C1255,1125 1235,1131 1207.5,1129.8 M1207.5,1124.5 V1135" fill="none" stroke="#c13236" stroke-width="1.2"/>
<path class="rd" stroke-width="3.2" d="M1226,1118 L1254,1131 M1248,1108 L1233,1140"/>
<use href="#chC" transform="translate(1164.4,1142.7) rotate(-62)"/>
<g fill="#c97a0a"><circle cx="1108" cy="1145.5" r="4.3"/><circle cx="1108" cy="1201" r="4.3"/><circle cx="1174.7" cy="1197" r="4.3"/></g>
<g fill="#f0a070"><circle cx="1121.6" cy="1211" r="4.3"/><circle cx="1167.6" cy="1209.7" r="4.3"/></g>
<path d="M1127,1203.5 L1133,1192" stroke="#999" stroke-width="1.6"/>
<path class="blk" stroke-width="1.7" d="M1133,1192 L1139,1181 C1140,1172 1132,1167 1117.5,1165.5" marker-end="url(#mk)"/>
<path class="blk" stroke-width="1.7" d="M1139,1181 C1148,1172 1158,1180 1166,1191" marker-end="url(#mk)"/>
<text x="1146" y="1239" font-size="14" style="fill:#e8801c">Ca<tspan font-size="8.5" dy="-5">2+</tspan></text>
<text class="big" x="1272.5" y="1219" textLength="95" lengthAdjust="spacingAndGlyphs">Bipolar cell</text>
</svg>
</body></html>
